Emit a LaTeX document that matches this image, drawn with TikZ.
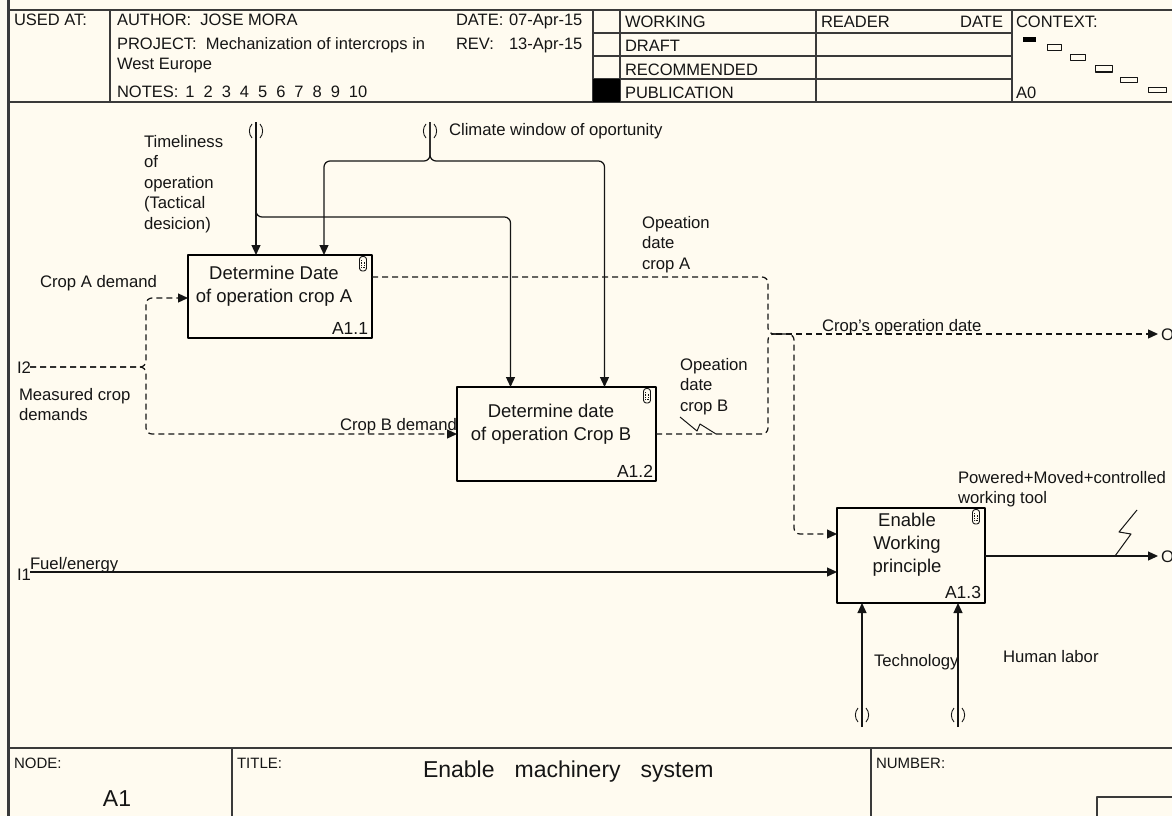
\documentclass[tikz,border=0pt]{standalone}
\usepackage{fontspec}
\setmainfont{Liberation Sans}
\usetikzlibrary{arrows.meta,calc}
\definecolor{paper}{HTML}{FFFBF0}
\definecolor{ink}{HTML}{151515}
\definecolor{frame}{HTML}{3A3A3A}
\tikzset{
  paperclip/.pic={
    \draw[ink,line width=0.9pt,rounded corners=2.8pt] (-3.5,-7.5) rectangle (3.5,7);
    \draw[ink,line width=0.7pt,densely dotted] (-1.2,-4) -- (-1.2,3.5) -- (1.2,3.5) -- (1.2,-2);
  },
  tunnelmark/.pic={
    \draw[ink,line width=0.9pt] (-4,-7) .. controls (-7.5,-3) and (-7.5,3) .. (-4,7);
    \draw[ink,line width=0.9pt] (4,-7) .. controls (7.5,-3) and (7.5,3) .. (4,7);
  }
}
\begin{document}
\begin{tikzpicture}[x=1pt,y=-1pt,line join=round,
  every node/.style={inner sep=0pt,outer sep=0pt,text=ink},
  hdr/.style={font=\fontsize{16.5}{19}\selectfont,anchor=base west},
  hdrsmall/.style={font=\fontsize{15}{18}\selectfont,anchor=base west},
  lbl/.style={font=\fontsize{16.7}{20.5}\selectfont,align=left,anchor=north west},
  lblone/.style={font=\fontsize{16.7}{20.5}\selectfont,anchor=base west},
  actbox/.style={draw=black,line width=2.5pt},
  acttext/.style={font=\fontsize{18.5}{23}\selectfont,align=center,anchor=north},
  actnum/.style={font=\fontsize{17.5}{20}\selectfont,anchor=base east},
  conn/.style={draw=ink,line width=1.25pt,rounded corners=6pt},
  dconn/.style={conn,dash pattern=on 6pt off 4pt},
  arr/.style={-{Triangle[length=10pt,width=9pt]}},
  rulethin/.style={draw=frame,line width=1.5pt},
  rulethick/.style={draw=frame,line width=2.2pt},
]
\fill[paper] (0,0) rectangle (1172,816);
\useasboundingbox (0,0) rectangle (1172,816);

% ---------- form frame and header ----------
\draw[draw=frame,line width=3pt] (8,0) -- (8,816);
\draw[rulethick] (8,10) -- (1172,10);
\draw[rulethick] (8,102) -- (1172,102);
\draw[rulethin] (110,10) -- (110,102);
\draw[rulethin] (593,10) -- (593,102);
\draw[rulethin] (620,10) -- (620,102);
\draw[rulethin] (816,10) -- (816,102);
\draw[rulethin] (1012,10) -- (1012,102);
\foreach \yy in {33,56,79} \draw[rulethin] (593,\yy) -- (1012,\yy);
\fill[black] (593,79) rectangle (620,102);

\node[hdr] (usedat) at (14,26) {USED AT:};
\node[hdr] (author) at (117,26) {AUTHOR:\ \ JOSE MORA};
\node[hdr] (project) at (117,49) {PROJECT:\ \ Mechanization of intercrops in};
\node[hdr] (project2) at (117,70) {West Europe};
\node[hdr] (notes) at (117,97) {NOTES:\hspace{7pt}1\hspace{9pt}2\hspace{9pt}3\hspace{9pt}4\hspace{9pt}5\hspace{9pt}6\hspace{9pt}7\hspace{9pt}8\hspace{9pt}9\hspace{9pt}10};
\node[hdr] (datek) at (456,26) {DATE:};
\node[hdr] (datev) at (509,26) {07-Apr-15};
\node[hdr] (revk) at (456,49) {REV:};
\node[hdr] (revv) at (509,49) {13-Apr-15};
\node[hdr] (working) at (625,28) {WORKING};
\node[hdr] (draft) at (625,52) {DRAFT};
\node[hdr] (recommended) at (625,75) {RECOMMENDED};
\node[hdr] (publication) at (625,98) {PUBLICATION};
\node[hdr] (reader) at (821,28) {READER};
\node[hdr,anchor=base east] (rdate) at (1003,28) {DATE};
\node[hdr] (context) at (1016,28) {CONTEXT:};
\node[hdr] (a0) at (1016,99) {A0};

% context map
\fill[black] (1023,37) rectangle (1036,42);
\foreach \xa/\ya/\xb/\yb in {1047/45/1061/51,1070/55/1085/61,1095/66/1112/72,1120/77/1137/82,1148/87/1166/92}
  \draw[ink,line width=1pt] (\xa,\ya) rectangle (\xb,\yb);

% ---------- footer ----------
\draw[rulethick] (8,748) -- (1172,748);
\draw[rulethin] (232,748) -- (232,816);
\draw[rulethin] (871,748) -- (871,816);
\draw[rulethick] (1097,830) -- (1097,797) -- (1180,797);
\node[hdrsmall] (nodek) at (14,768) {NODE:};
\node[font=\fontsize{23}{26}\selectfont,anchor=base] (nodev) at (117,806) {A1};
\node[hdrsmall] (titlek) at (237,768) {TITLE:};
\node[font=\fontsize{23}{26}\selectfont,anchor=base west] (titlev) at (423,777) {Enable\hspace{20pt}machinery\hspace{20pt}system};
\node[hdrsmall] (numberk) at (876,768) {NUMBER:};

% ---------- activities ----------
\node[actbox,minimum width=184pt,minimum height=83pt] (a11) at (280,296.5) {};
\node[actbox,minimum width=199pt,minimum height=94pt] (a12) at (556.5,434) {};
\node[actbox,minimum width=148pt,minimum height=95pt] (a13) at (911,555.5) {};

\node[acttext] (a11t) at (274,266.5) {Determine Date\\of operation crop A};
\node[acttext] (a12t) at (551,404.5) {Determine date\\of operation Crop B};
\node[acttext] (a13t) at (907,513.5) {Enable\\Working\\principle};
\node[actnum] (a11n) at (368,334) {A1.1};
\node[actnum] (a12n) at (653,477) {A1.2};
\node[actnum] (a13n) at (981,598) {A1.3};

\pic at ($(a11.north east)+(-9,9)$) {paperclip};
\pic at ($(a12.north east)+(-9,9)$) {paperclip};
\pic at ($(a13.north east)+(-9,9)$) {paperclip};

% ---------- boundary points, junctions and entry points ----------
\coordinate (ctlT) at (256,122);
\coordinate (ctlC) at (430,122);
\coordinate (i2) at (30,367);
\coordinate (i1) at (30,572);
\coordinate (o2) at (1158,334);
\coordinate (o1) at (1158,556);
\coordinate (mT) at (862,727);
\coordinate (mH) at (958,727);
\coordinate (jT) at (256,217);
\coordinate (jC) at (430,161);
\coordinate (jI) at (146,367);
\coordinate (jO) at (768,334);
\coordinate (jD) at (794,334);
\coordinate (a11c2) at ([xshift=136pt]a11.north west);
\coordinate (a12c1) at ([xshift=53.5pt]a12.north west);
\coordinate (a12c2) at ([xshift=147.5pt]a12.north west);
\coordinate (a11i) at ([yshift=-1.5pt]a11.west);
\coordinate (a11o) at ([yshift=19.5pt]a11.east);
\coordinate (a13i2) at ([yshift=21.5pt]a13.west);
\coordinate (a13o) at ([yshift=-0.5pt]a13.east);

% tunnels
\pic at ($(ctlT)+(0,9)$) {tunnelmark};
\pic at ($(ctlC)+(0,9)$) {tunnelmark};
\pic at ($(mT)+(0,-12)$) {tunnelmark};
\pic at ($(mH)+(0,-12)$) {tunnelmark};

% controls
\draw[conn,arr] (ctlT) -- (ctlT |- a11.north);
\draw[conn,arr] ($(jT)+(0,-8)$) -- (jT) -- (jT -| a12c1) -- (a12c1);
\draw[conn,arr] (ctlC) -- (jC) -- (jC -| a11c2) -- (a11c2);
\draw[conn,arr] (ctlC) -- (jC) -- (jC -| a12c2) -- (a12c2);

% inputs
\draw[dconn,arr] (i2) -- (jI) -- (jI |- a11i) -- (a11i);
\draw[dconn,arr] (i2) -- (jI) -- (jI |- a12.west) -- (a12.west);
\draw[conn,arr] (i1) -- (i1 -| a13.west);

% outputs
\draw[dconn] (a11o) -- (a11o -| jO) -- (jO) -- ($(jO)+(14,0)$);
\draw[dconn] (a12.east) -- (a12.east -| jO) -- (jO) -- ($(jO)+(14,0)$);
\draw[dconn,arr] ($(jO)+(8,0)$) -- (o2);
\draw[dconn,arr] ($(jO)+(14,0)$) -- (jD) -- (jD |- a13i2) -- (a13i2);
\draw[conn,arr] (a13o) -- (o1);

% squiggles tying labels to arrows
\draw[ink,line width=1pt] (680,417) -- (697,431) -- (700,424) -- (716,434);
\draw[ink,line width=1pt] (1137,510) -- (1119,532) -- (1131,534) -- (1115,556);

% mechanisms
\draw[conn,arr] (mT) -- (mT |- a13.south);
\draw[conn,arr] (mH) -- (mH |- a13.south);

% ---------- arrow labels ----------
\node[lbl] (ltime) at (144,135) {Timeliness\\of\\operation\\(Tactical\\desicion)};
\node[lblone] (lclim) at (449,135) {Climate window of oportunity};
\node[lbl] (lopa) at (642,216) {Opeation\\date\\crop A};
\node[lblone] (lcropa) at (40,287) {Crop A demand};
\node[lbl] (lmeas) at (19,388) {Measured crop\\demands};
\node[lblone] (lcropb) at (340,430) {Crop B demand};
\node[lbl] (lopb) at (680,358) {Opeation\\date\\crop B};
\node[lblone] (lcod) at (822,331) {Crop's operation date};
\node[lbl] (lpow) at (958,471) {Powered+Moved+controlled\\working tool};
\node[lblone] (ltech) at (874,666) {Technology};
\node[lblone] (lhum) at (1003,662) {Human labor};
\node[lblone] (lfuel) at (30,569) {Fuel/energy};
\node[lblone] (li1) at (17,580) {I1};
\node[lblone] (li2) at (17,373) {I2};
\node[lblone] (lo2) at (1161,340) {O2};
\node[lblone] (lo1) at (1161,562) {O1};
\end{tikzpicture}
\end{document}
